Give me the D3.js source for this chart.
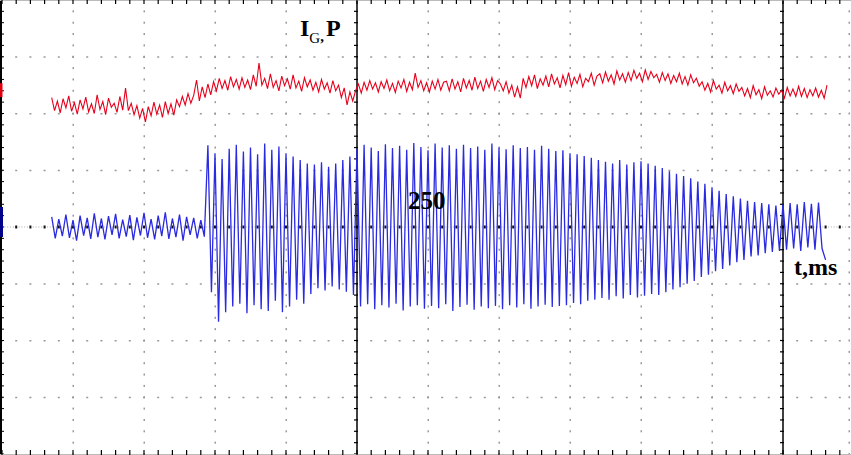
<!DOCTYPE html>
<html><head><meta charset="utf-8">
<script src="https://cdn.jsdelivr.net/npm/d3@7"></script>
<style>html,body{margin:0;padding:0;background:#fff;overflow:hidden}svg{display:block}</style>
</head><body><svg id="c" width="851" height="455"></svg>
<script>
// ---- axes / grid (time in ms, amplitude in arbitrary units, 100 per division)
const timeMajorTicks = [0,50,100,150,200,250,300,350,400,450,500,550,600];
const ampMajorTicks = [-400,-300,-200,-100,0,100,200,300,400];
const timeLabel = "250";
const axisLabelX = "t,ms";
const axisLabelY = ["I", "G", ",", "P"];

// ---- traces (sampled oscilloscope data)
const redStart = 35, redStep = 2;
const redValues = [
228,205,222,201,226,210,231,204,219,199,224,208,229,203,217,200,233,207,221,198,227,211,218,202,230,206,245,205,
218,198,214,192,209,185,212,196,220,199,215,193,221,200,217,197,224,
212,230,215,235,218,232,
259,222,
247,228,252,233,256,240,
262,244,258,241,265,247,260,243,263,246,259,242,268,248,
289,250,
262,244,270,246,258,240,266,249,261,243,268,245,257,239,263,247,259,241,255,238,260,243,254,236,258,240,250,
228,245,215,238,222,
240,252,236,255,241,258,243,254,238,256,244,259,240,253,237,257,245,260,239,255,242,271,246,258,240,254,238,257,243,260,241,255,
257,240,261,243,256,238,262,245,258,241,264,244,257,239,260,246,263,242,258,
252,240,256,236,250,229,247,227,
262,246,265,249,268,244,261,250,266,247,270,252,263,245,267,251,272,248,264,253,269,247,262,256,271,250,266,
270,254,273,257,268,252,275,259,270,255,272,258,276,262,271,256,277,260,274,263,269,255,272,258,270,253,267,256,271,252,265,250,268,254,262,248,
256,241,253,238,258,243,250,236,255,240,249,235,252,239,
246,231,244,228,249,233,242,226,247,232,240,229,245,234,241,227,246,231,243,230,248,
230,244,228,242,231,245,229,241,227,250
];

const blueStart = 35, blueStep = 2.5;
const blueValues = [
18,-20,14,-16,22,-19,12,-24,20,-15,16,-21,24,-18,15,-22,19,-14,23,-20,13,-17,21,-23,17,-15,25,-19,14,-22,20,-16,26,-21,15,-18,22,-24,18,-14,16,-20,12,-17,
144,-115,130,-167,120,-150,138,-140,145,-135,133,-152,140,-138,128,-145,147,-148,136,-130,142,-150,130,-140,124,-128,118,-135,112,-118,110,-108,114,-112,106,-105,112,-110,118,-114,124,-120,
138,-140,145,-136,140,-145,134,-138,146,-142,139,-135,143,-147,136,-140,148,-138,141,-144,135,-139,147,-143,140,-136,144,-148,138,-141,145,-137,139,-146,142,-140,136,-143,147,-139,140,-145,137,-138,144,-142,139,-136,141,-144,136,-140,143,-137,138,-141,134,-139,
135,-138,130,-134,128,-136,125,-130,122,-128,118,
-125,115,-128,112,-122,118,-126,110,-120,114,-124,116,-121,112,
-118,108,-120,104,-115,98,-110,94,-106,90,-100,86,-95,80,
-88,76,-84,70,-78,64,-74,58,-68,54,-62,50,
-58,46,-52,44,-50,42,-46,40,-44,38,-42,40,
-40,42,-38,40,-42,44,-36,41,-40,43,-38,-58
];

const W = 851, H = 455;
const svg = d3.select("#c");
const x = d3.scaleLinear().domain([0, 600]).range([2, 854]);
const y = d3.scaleLinear().domain([-400, 400]).range([454, 0]);

const timeMinor = d3.range(0, 601, 10);
const ampMinor = d3.range(-400, 401, 20);

// dotted grid: horizontal lines (dots at time minor ticks)
const gGrid = svg.append("g");
ampMajorTicks.filter(v => v !== 0 && Math.abs(v) !== 400).forEach(v => {
  gGrid.selectAll(null).data(timeMinor).enter().append("rect")
    .attr("x", d => x(d) - 1).attr("y", y(v) - 0.5).attr("width", 2).attr("height", 1.5)
    .attr("fill", "#999");
});
// vertical dotted lines (dots at amplitude minor ticks)
timeMajorTicks.filter(t => t !== 0 && t !== 250 && t !== 550).forEach(t => {
  gGrid.selectAll(null).data(ampMinor).enter().append("rect")
    .attr("x", x(t) - 0.5).attr("y", d => y(d) - 1).attr("width", 1.5).attr("height", 2)
    .attr("fill", "#999");
});
// right edge dotted
gGrid.selectAll(null).data(ampMinor).enter().append("rect")
  .attr("x", 848.5).attr("y", d => y(d) - 1).attr("width", 1.5).attr("height", 2).attr("fill", "#999");

// center horizontal axis (dotted, with ticks)
gGrid.selectAll(null).data(d3.range(0, 601, 2)).enter().append("rect")
  .attr("x", d => x(d) - 0.5).attr("y", y(0) - 0.5).attr("width", 1).attr("height", 1)
  .attr("fill", "#aaa");
gGrid.selectAll(null).data(timeMinor).enter().append("rect")
  .attr("x", d => x(d) - 1).attr("y", y(0) - 1.5).attr("width", 2).attr("height", 3)
  .attr("fill", "#111");

// solid vertical axes with ticks
[250, 550].forEach(t => {
  gGrid.append("line").attr("x1", x(t)).attr("x2", x(t)).attr("y1", 0).attr("y2", H)
    .attr("stroke", "#000").attr("stroke-width", 1.5);
  gGrid.selectAll(null).data(ampMinor).enter().append("line")
    .attr("x1", x(t) - 3).attr("x2", x(t) + 1).attr("y1", d => y(d)).attr("y2", d => y(d))
    .attr("stroke", "#000").attr("stroke-width", 1.2);
});

// left border
gGrid.append("line").attr("x1", 1).attr("x2", 1).attr("y1", 0).attr("y2", H)
  .attr("stroke", "#000").attr("stroke-width", 2);
gGrid.selectAll(null).data(ampMinor).enter().append("line")
  .attr("x1", 1).attr("x2", 4).attr("y1", d => y(d)).attr("y2", d => y(d))
  .attr("stroke", "#000").attr("stroke-width", 1);
// top & bottom borders with ticks
[0, 454].forEach((yy, i) => {
  gGrid.append("line").attr("x1", 0).attr("x2", W).attr("y1", yy + 0.5).attr("y2", yy + 0.5)
    .attr("stroke", "#bbb").attr("stroke-width", 1);
  gGrid.selectAll(null).data(timeMinor).enter().append("line")
    .attr("x1", d => x(d)).attr("x2", d => x(d))
    .attr("y1", i ? yy - 4 : 0).attr("y2", i ? yy + 1 : 4)
    .attr("stroke", "#000").attr("stroke-width", 1.2);
});

// channel markers at left edge
svg.append("rect").attr("x", 0).attr("y", y(250) - 2).attr("width", 2.5).attr("height", 14).attr("fill", "#e00010");
svg.append("rect").attr("x", 0).attr("y", y(0) - 20).attr("width", 3).attr("height", 30).attr("fill", "#00008b");

// traces
const redData = redValues.map((v, i) => ({t: redStart + i * redStep, v}));
const blueData = blueValues.map((v, i) => ({t: blueStart + i * blueStep, v}));
const line = d3.line().x(d => x(d.t)).y(d => y(d.v));

svg.append("path").datum(blueData).attr("d", line)
  .attr("fill", "none").attr("stroke", "#2a2ae0").attr("stroke-width", 1.3).attr("stroke-linejoin", "miter");
svg.append("path").datum(redData).attr("d", line)
  .attr("fill", "none").attr("stroke", "#e6001c").attr("stroke-width", 1.1).attr("stroke-linejoin", "miter");

// labels
const font = "'Liberation Serif','Times New Roman',serif";
const lab = svg.append("text").attr("x", 300).attr("y", 36)
  .attr("font-family", font).attr("font-weight", "bold").attr("font-size", 24).attr("fill", "#000");
lab.append("tspan").text(axisLabelY[0]);
lab.append("tspan").attr("font-size", 15).attr("font-weight", "normal").attr("dy", 7).text(axisLabelY[1]);
lab.append("tspan").attr("font-size", 15).attr("dy", -2).text(axisLabelY[2]);
lab.append("tspan").attr("dy", -5).attr("dx", 2).text(axisLabelY[3]);

svg.append("text").attr("x", x(250) + 51).attr("y", 209)
  .attr("font-family", font).attr("font-weight", "bold").attr("font-size", 25).attr("fill", "#000")
  .text(timeLabel);
svg.append("text").attr("x", 794).attr("y", 275)
  .attr("font-family", font).attr("font-weight", "bold").attr("font-size", 24).attr("fill", "#000")
  .text(axisLabelX);
</script>
</body></html>
